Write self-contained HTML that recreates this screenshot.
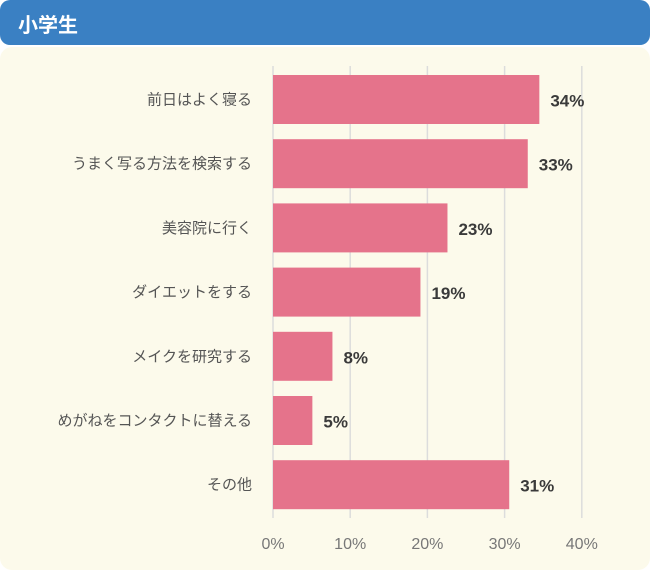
<!DOCTYPE html>
<html><head><meta charset="utf-8"><style>
body{margin:0;width:650px;height:570px;background:#fff;font-family:"Liberation Sans","Noto Sans CJK JP",sans-serif;overflow:hidden}
#hdr{position:absolute;left:0;top:0;width:650px;height:45px;background:#3a80c3;border-radius:10px;}
#hdr span{position:absolute;left:18px;top:9px;color:#fff;font-weight:bold;font-size:20px}
#card{position:absolute;left:0;top:47px;width:650px;height:523px;background:#fcfaeb;border-radius:12px}
svg{position:absolute;left:0;top:0}
</style></head><body>
<div id="card"></div>
<div id="hdr"><span>小学生</span></div>
<svg id="chart" width="650" height="570"></svg>
<script>
const categories=["前日はよく寝る","うまく写る方法を検索する","美容院に行く","ダイエットをする","メイクを研究する","めがねをコンタクトに替える","その他"];
const values=[34.5,33,22.6,19.1,7.7,5.1,30.6];
const valueLabels=["34%","33%","23%","19%","8%","5%","31%"];
const ticks=[0,10,20,30,40];
const tickLabels=["0%","10%","20%","30%","40%"];
const NS="http://www.w3.org/2000/svg";
const svg=document.getElementById('chart');
const x=v=>273+v*7.72;
const yc=i=>99.5+i*64.2;
function mk(t,a,txt){const e=document.createElementNS(NS,t);for(const k in a)e.setAttribute(k,a[k]);if(txt!==undefined)e.textContent=txt;svg.appendChild(e);return e;}
ticks.forEach((t,i)=>{
 const g=mk('line',{x1:x(t),x2:x(t),y1:66,y2:518,stroke:'#dcdcdc','stroke-width':1.5});
 
 
 const l=mk('text',{x:x(t),y:549,'text-anchor':'middle','font-size':16,fill:'#777'},tickLabels[i]);
 
 
});
categories.forEach((c,i)=>{
 const b=mk('rect',{x:x(0),y:yc(i)-24.5,width:x(values[i])-x(0),height:49,fill:'#e5738b'});
 
 
 const l=mk('text',{x:252,y:yc(i)+5,'text-anchor':'end','font-size':15,fill:'#555'},c);
 
 
 const v=mk('text',{x:x(values[i])+11,y:yc(i)+7,'font-size':17,'font-weight':'bold',fill:'#3a3a3a'},valueLabels[i]);
 
 
});
</script>
</body></html>
